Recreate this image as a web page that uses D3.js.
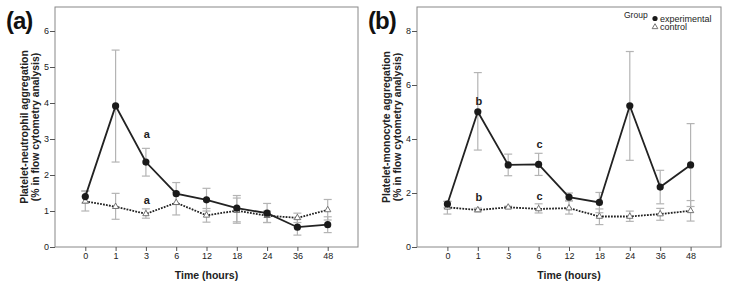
<!DOCTYPE html>
<html>
<head>
<meta charset="utf-8">
<script src="https://cdn.jsdelivr.net/npm/d3@7"></script>
<style>
  body { margin: 0; background: #fff; }
  svg text { font-family: "Liberation Sans", Arial, sans-serif; }
</style>
</head>
<body>
<div id="chart"></div>
<script>
// time points (categorical axis)
var times = ["0", "1", "3", "6", "12", "18", "24", "36", "48"]

// panel (a) platelet-neutrophil
var neuExp     = [1.40, 3.92, 2.36, 1.48, 1.31, 1.08, 0.94, 0.55, 0.62]
var neuExpLow  = [1.22, 2.36, 1.97, 1.18, 1.00, 0.70, 0.68, 0.33, 0.40]
var neuExpHigh = [1.56, 5.47, 2.74, 1.79, 1.63, 1.43, 1.21, 0.77, 0.84]
var neuCon     = [1.27, 1.12, 0.92, 1.23, 0.88, 1.01, 0.87, 0.81, 1.03]
var neuConLow  = [1.00, 0.77, 0.80, 0.89, 0.69, 0.66, 0.68, 0.68, 0.75]
var neuConHigh = [1.55, 1.49, 1.06, 1.52, 1.07, 1.36, 1.00, 0.94, 1.32]

// panel (b) platelet-monocyte
var monExp     = [1.59, 5.01, 3.04, 3.06, 1.85, 1.65, 5.23, 2.22, 3.04]
var monExpLow  = [1.45, 3.59, 2.64, 2.65, 1.70, 1.27, 3.21, 1.60, 1.50]
var monExpHigh = [1.69, 6.46, 3.44, 3.47, 2.00, 2.02, 7.24, 2.84, 4.57]
var monCon     = [1.47, 1.37, 1.47, 1.41, 1.44, 1.13, 1.13, 1.22, 1.34]
var monConLow  = [1.22, 1.30, 1.43, 1.26, 1.22, 0.83, 0.95, 0.99, 0.96]
var monConHigh = [1.69, 1.44, 1.51, 1.60, 1.73, 1.41, 1.33, 1.43, 1.72]

var neuTicks = [0, 1, 2, 3, 4, 5, 6]
var monTicks = [0, 2, 4, 6, 8]

var svg = d3.select("#chart").append("svg")
    .attr("width", 729)
    .attr("height", 288)

function drawPanel(opt) {
  var g = svg.append("g")
  var x = d3.scalePoint().domain(times).range([opt.left, opt.right]).padding(1)
  var y = d3.scaleLinear().domain(opt.yDomain).range([247, 31])

  // frame
  g.append("rect")
    .attr("x", opt.left).attr("y", 7)
    .attr("width", opt.right - opt.left).attr("height", 240)
    .attr("fill", "none").attr("stroke", "#888").attr("stroke-width", 1)

  // axes
  var yAxis = g.append("g")
    .attr("transform", "translate(" + opt.left + ",0)")
    .call(d3.axisLeft(y).tickValues(opt.ticks).tickFormat(d3.format("d")).tickSize(5).tickPadding(1))
  var xAxis = g.append("g")
    .attr("transform", "translate(0,247)")
    .call(d3.axisBottom(x).tickSize(4).tickPadding(2))
  ;[yAxis, xAxis].forEach(function(a) {
    a.select(".domain").remove()
    a.selectAll("line").attr("stroke", "#555")
    a.selectAll("text").attr("font-size", 9).attr("fill", "#222")
      .style("font-family", "Liberation Sans, Arial, sans-serif")
  })

  // axis titles
  g.append("text")
    .attr("x", (opt.left + opt.right) / 2).attr("y", 279)
    .attr("text-anchor", "middle").attr("font-size", 10.5).attr("font-weight", "bold")
    .attr("fill", "#222")
    .text("Time (hours)")
  var yt = g.append("text")
    .attr("transform", "translate(" + (opt.left - 27.5) + ",127) rotate(-90)")
    .attr("text-anchor", "middle").attr("font-size", 10.4).attr("font-weight", "bold")
    .attr("fill", "#222")
  yt.append("tspan").attr("x", 0).attr("y", 0).text(opt.title1)
  yt.append("tspan").attr("x", 0).attr("y", 11).text(opt.title2)

  // panel label
  g.append("text")
    .attr("x", opt.left - 49).attr("y", 29)
    .attr("font-size", 24).attr("font-weight", "bold").attr("letter-spacing", -1)
    .attr("fill", "#111")
    .text(opt.label)

  var series = [
    {v: opt.con, lo: opt.conLow, hi: opt.conHigh, type: "con"},
    {v: opt.exp, lo: opt.expLow, hi: opt.expHigh, type: "exp"}
  ]

  // error bars
  series.forEach(function(s) {
    var eb = g.append("g").attr("stroke", "#b4b4b4").attr("stroke-width", 1.2).attr("fill", "none")
    times.forEach(function(t, i) {
      var cx = x(t)
      eb.append("line").attr("x1", cx).attr("x2", cx).attr("y1", y(s.lo[i])).attr("y2", y(s.hi[i]))
      eb.append("line").attr("x1", cx - 4).attr("x2", cx + 4).attr("y1", y(s.lo[i])).attr("y2", y(s.lo[i]))
      eb.append("line").attr("x1", cx - 4).attr("x2", cx + 4).attr("y1", y(s.hi[i])).attr("y2", y(s.hi[i]))
    })
  })

  var line = d3.line().x(function(d, i) { return x(times[i]) }).y(function(d) { return y(d) })

  // control: dotted line + open triangles
  g.append("path").datum(opt.con)
    .attr("d", line).attr("fill", "none").attr("stroke", "#222")
    .attr("stroke-width", 1.8).attr("stroke-dasharray", "1.8,1.2")
  g.selectAll(".tri").data(opt.con).enter().append("path")
    .attr("transform", function(d, i) { return "translate(" + x(times[i]) + "," + y(d) + ")" })
    .attr("d", d3.symbol().type(d3.symbolTriangle).size(17))
    .attr("fill", "#fff").attr("stroke", "#666").attr("stroke-width", 0.9)

  // experimental: solid line + filled circles
  g.append("path").datum(opt.exp)
    .attr("d", line).attr("fill", "none").attr("stroke", "#222").attr("stroke-width", 1.8)
  g.selectAll(".dot").data(opt.exp).enter().append("circle")
    .attr("cx", function(d, i) { return x(times[i]) })
    .attr("cy", function(d) { return y(d) })
    .attr("r", 3.6).attr("fill", "#1a1a1a")

  // significance letters
  opt.notes.forEach(function(n) {
    g.append("text")
      .attr("x", x(n.t) + 1).attr("y", y(n.v) + 4)
      .attr("text-anchor", "middle").attr("font-size", 11).attr("font-weight", "bold")
      .attr("fill", "#222")
      .text(n.txt)
  })
  return {x: x, y: y}
}

drawPanel({
  left: 55, right: 358, yDomain: [0, 6], ticks: neuTicks, label: "(a)",
  title1: "Platelet-neutrophil aggregation", title2: "(% in flow cytometry analysis)",
  exp: neuExp, expLow: neuExpLow, expHigh: neuExpHigh,
  con: neuCon, conLow: neuConLow, conHigh: neuConHigh,
  notes: [{t: "3", v: 3.15, txt: "a"}, {t: "3", v: 1.3, txt: "a"}]
})

drawPanel({
  left: 417, right: 721, yDomain: [0, 8], ticks: monTicks, label: "(b)",
  title1: "Platelet-monocyte aggregation", title2: "(% in flow cytometry analysis)",
  exp: monExp, expLow: monExpLow, expHigh: monExpHigh,
  con: monCon, conLow: monConLow, conHigh: monConHigh,
  notes: [{t: "1", v: 5.42, txt: "b"}, {t: "1", v: 1.87, txt: "b"},
          {t: "6", v: 3.82, txt: "c"}, {t: "6", v: 1.9, txt: "c"}]
})

// legend (panel b)
var leg = svg.append("g")
leg.append("text").attr("x", 624).attr("y", 18).attr("font-size", 8.5).attr("fill", "#222").text("Group")
leg.append("circle").attr("cx", 655).attr("cy", 18.5).attr("r", 2.6).attr("fill", "#1a1a1a")
leg.append("text").attr("x", 660).attr("y", 21.5).attr("font-size", 9).attr("fill", "#222").text("experimental")
leg.append("path").attr("transform", "translate(655,27)")
  .attr("d", d3.symbol().type(d3.symbolTriangle).size(14))
  .attr("fill", "#fff").attr("stroke", "#666").attr("stroke-width", 0.9)
leg.append("text").attr("x", 660).attr("y", 30).attr("font-size", 9).attr("fill", "#222").text("control")
</script>
</body>
</html>
